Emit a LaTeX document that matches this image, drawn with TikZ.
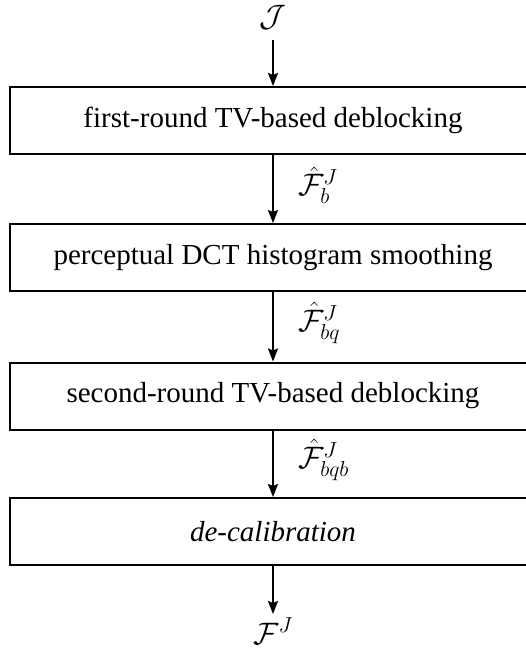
\RequirePackage{fix-cm}
\documentclass[tikz,border=0pt]{standalone}
\usepackage{fontspec}
\setmainfont{Liberation Serif}
\usetikzlibrary{arrows.meta}
\begin{document}
\begin{tikzpicture}[x=1pt,y=-1pt,
  stagebox/.style={draw,line width=2pt,minimum width=526pt,minimum height=67pt,inner sep=0pt,
    font=\fontsize{29}{34}\selectfont},
  lbl/.style={font=\fontsize{31}{37}\selectfont,inner sep=0pt},
  arr/.style={line width=2pt,-{Stealth[length=13pt,width=10pt,inset=2pt]}}]
\useasboundingbox (0,0) rectangle (526,651);
\clip (0,0) rectangle (526,651);
\node[lbl] (in) at (273,17) {$\mathcal{J}$};
\coordinate (inA) at (273,40);
\node[stagebox] (b1) at (273,120.5) {first-round TV-based deblocking};
\node[stagebox] (b2) at (273,257.5) {perceptual DCT histogram smoothing};
\node[stagebox] (b3) at (273,396) {second-round TV-based deblocking};
\node[stagebox] (b4) at (273,531.5) {\textit{de-calibration}};
\node[lbl] (out) at (273,631) {$\mathcal{F}^J$};
\coordinate (outA) at (273,614);
\draw[arr] (inA) -- (b1.north);
\draw[arr] (b1.south) -- (b2.north) node[lbl,midway,anchor=west,xshift=24pt,yshift=4pt] (l1) {$\hat{\mathcal{F}}_b^J$};
\draw[arr] (b2.south) -- (b3.north) node[lbl,midway,anchor=west,xshift=24pt,yshift=4pt] (l2) {$\hat{\mathcal{F}}_{bq}^J$};
\draw[arr] (b3.south) -- (b4.north) node[lbl,midway,anchor=west,xshift=24pt,yshift=4pt] (l3) {$\hat{\mathcal{F}}_{bqb}^J$};
\draw[arr] (b4.south) -- (outA);
\end{tikzpicture}
\end{document}
